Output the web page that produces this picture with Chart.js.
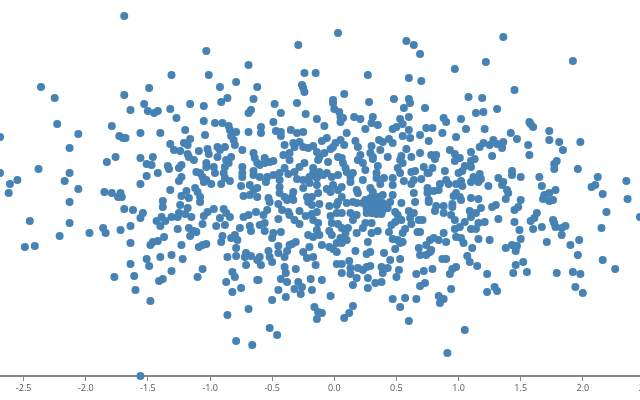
<!DOCTYPE html>
<html>
<head>
<meta charset="utf-8">
<style>
  html, body { margin: 0; padding: 0; background: #fff; }
  #wrap { width: 640px; height: 400px; }
</style>
<script src="https://cdn.jsdelivr.net/npm/chart.js@4/dist/chart.umd.min.js"></script>
</head>
<body>
<div id="wrap"><canvas id="scatter"></canvas></div>
<script>
// tick positions on the x axis
var tickValues = [-2.5, -2.0, -1.5, -1.0, -0.5, 0.0, 0.5, 1.0, 1.5, 2.0, 2.5];
var tickLabels = ['-2.5', '-2.0', '-1.5', '-1.0', '-0.5', '0.0', '0.5', '1.0', '1.5', '2.0', '2.5'];

// [x, y]
var samples = [
[-1.69,1.80],[-1.03,1.45],[-1.31,1.21],[-1.01,1.21],[-2.36,1.09],[-1.49,1.08],[-2.25,.98],[-1.69,1.01],[-1.53,.92],[-1.64,.86],
[-1.50,.85],[-1.45,.83],[-1.42,.85],[-1.32,.87],[-1.16,.92],[-1.05,.90],[-1.27,.78],[-1.05,.75],[-2.23,.72],[-1.79,.70],
[-2.69,.59],[-2.06,.62],[-1.73,.60],[-1.70,.58],[-1.68,.58],[-1.56,.63],[-1.40,.63],[-1.20,.66],[-1.04,.61],[-1.16,.57],
[-1.21,.53],[-1.18,.51],[-1.32,.52],[-1.29,.46],[-1.24,.45],[-2.13,.48],[-1.09,.45],[-1.02,.47],[-1.01,.42],[-1.76,.39],
[-1.83,.34],[-1.56,.38],[-1.46,.39],[-1.51,.32],[-1.47,.31],[-1.18,.42],[-1.17,.39],[-1.13,.36],[-1.34,.30],[-1.33,.27],
[-1.25,.28],[-1.23,.31],[-1.03,.33],[-1.03,.29],[-2.38,.27],[-2.69,.23],[-2.13,.23],[-1.51,.20],[-1.42,.23],[-1.11,.24],
[-1.08,.23],[-1.06,.19],[-1.03,.16],[-1.05,.14],[-1.23,.19],[-1.25,.15],[-2.55,.16],[-2.61,.12],[-2.17,.15],[-1.56,.12],
[-2.62,.03],[-2.06,.07],[-1.85,.04],[-1.79,.03],[-1.72,.03],[-1.74,-.01],[-1.71,-.01],[-1.32,.06],[-1.19,.05],[-1.23,0],
[-1.17,-.02],[-1.12,.08],[-1.10,.04],[-1.08,-.01],[-2.13,-.06],
[-2.45,-.25],[-2.13,-.27],[-2.49,-.51],[-2.41,-.50],[-2.21,-.40],[-1.97,-.37],[-1.86,-.32],[-1.84,-.37],[-1.72,-.34],[-1.64,-.30],
[-1.69,-.13],[-1.62,-.14],[-1.54,-.17],[-1.56,-.22],[-1.43,-.25],[-1.39,-.21],[-1.40,-.30],[-1.36,-.25],[-1.31,-.21],[-1.25,-.17],
[-1.26,-.21],[-1.20,-.18],[-1.24,-.09],[-1.18,-.12],[-1.15,-.21],[-1.38,-.11],[-1.38,-.05],[-1.08,-.06],[-1.02,-.16],[-1.05,-.20],
[-1.06,-.28],[-1.26,-.33],[-1.17,-.32],[-1.13,-.35],[-1.11,-.36],[-1.16,-.40],[-1.64,-.47],[-1.37,-.41],[-1.42,-.45],[-1.46,-.46],
[-1.48,-.49],[-1.23,-.49],[-1.09,-.51],[-1.06,-.49],[-1.03,-.48],[-1.51,-.63],[-1.49,-.70],[-1.40,-.61],[-1.31,-.59],[-1.22,-.63],
[-1.64,-.68],[-1.77,-.81],[-1.61,-.80],[-1.60,-.94],[-1.48,-1.05],[-1.38,-.83],[-1.41,-.85],[-1.31,-.75],[-1.06,-.73],[-1.10,-.81],
[-1.56,-1.80],
[.03,1.63],[-.29,1.51],[.58,1.55],[.64,1.51],[.69,1.42],[-.69,1.31],[-.24,1.23],[-.15,1.23],[.27,1.21],[.60,1.18],
[.70,1.15],[-.92,1.09],[-.79,1.14],[-.62,1.09],[-.26,1.11],[-.25,1.08],[-.24,1.04],[.08,1.02],[-.86,.98],[-.91,.94],
[-.65,.97],[-.48,.92],[-.30,.93],[-.01,.96],[-.01,.93],[.28,.94],[.48,.97],[.60,.97],[.61,.93],[.56,.88],
[.73,.88],[-.67,.86],[-.69,.83],[-.43,.83],[-.23,.82],[0,.87],[.04,.84],[.05,.79],[.07,.78],[.05,.74],
[-.14,.77],[.16,.79],[.21,.77],[.31,.79],[.60,.79],[.53,.77],[-.96,.73],[-.90,.73],[-.85,.70],[-.49,.74],
[-.08,.70],[.30,.73],[.35,.71],[.25,.67],[.47,.67],[.50,.69],[.55,.72],[.60,.66],[.74,.68],[-.84,.66],
[-.79,.64],[-.59,.69],[-.59,.63],[-.69,.64],[-.47,.65],[-.43,.64],[-.43,.60],[-.35,.66],[-.30,.63],[-.25,.64],
[.10,.63],[.55,.60],[.61,.58],[.69,.61],[-.83,.60],[-.81,.56],[-.80,.51],[-.06,.58],[-.10,.55],[.05,.56],
[.01,.53],[.08,.51],[.17,.55],[.19,.49],[.36,.56],[.39,.54],[.44,.57],[.47,.53],[-.40,.51],[-.33,.53],
[-.28,.54],[-.32,.49],[-.25,.49],[-.21,.48],[-.17,.50],[-.01,.49],[.30,.50],[.58,.47],[-.94,.49],[-.88,.49],
[-.92,.46],[-.74,.46],[-.65,.43],[-.64,.38],[-.62,.33],[-.41,.41],[-.36,.43],[-.36,.36],[-.14,.44],[-.12,.39],
[-.08,.43],[-.03,.47],[.03,.39],[.06,.38],[.21,.41],[.19,.36],[.23,.33],[.29,.43],[.31,.39],[.37,.46],
[.31,.37],[.43,.39],[.54,.40],[.62,.39],[.69,.43],[-.94,.39],[-.83,.39],[-.87,.36],[-.85,.33],[-.88,.29],
[-.56,.38],[-.60,.31],[-.52,.34],[-.49,.35],[-.56,.33],[-.13,.36],[-.05,.34],[.07,.33],[.09,.28],[.35,.30],
[.53,.36],[.55,.33],[.51,.28],[.72,.29],[-.97,.29],[-.96,.23],[-.74,.29],[-.74,.23],[-.74,.19],[-.65,.25],
[-.65,.21],[-.24,.33],[-.28,.29],[-.32,.24],[-.17,.28],[-.17,.23],[-.12,.24],[-.06,.23],[.25,.26],[.10,.24],
[.13,.19],[.15,.23],[.53,.23],[.62,.24],[.65,.25],[.75,.23],[-.89,.23],[-.88,.18],[-.84,.15],[-.60,.19],
[-.54,.19],[-.49,.21],[-.44,.23],[-.40,.28],[-.37,.22],[-.30,.17],[-.25,.16],[-.20,.19],[-.14,.18],[-.09,.21],
[-.02,.19],[.03,.21],[.23,.16],[.34,.23],[.34,.18],[.40,.18],[.47,.18],[.56,.15],[.64,.16],[.70,.17],
[-.99,.12],[-.91,.12],[-.75,.10],[-.55,.14],[-.44,.16],[-.44,.09],[-.14,.11],[-.20,.13],[-.25,.08],[-.06,.07],
[-.01,.11],[.06,.09],[.13,.14],[.18,.06],[.29,.08],[.37,.12],[.47,.11],[.62,.12],[.75,.08],[-.68,.11],
[-.65,.06],[-.62,.08],[-.73,0],[-.68,.01],[-.62,-.01],[-.53,-.02],[-.44,.03],[-.40,-.01],[-.33,.04],[-.34,-.01],
[-.22,-.01],[-.18,-.01],[-.13,.03],[-.03,.04],[.03,.06],[.06,-.01],[.19,.03],[.31,.04],[.39,.01],[.47,.01],
[.64,.03],[.75,.03],
[1.36,1.59],[1.22,1.34],[.97,1.27],[1.92,1.35],[1.45,1.06],[1.08,.99],[1.19,.98],[1.14,.83],[1.20,.84],[1.31,.87],
[.88,.78],[.90,.74],[1.02,.77],[1.57,.74],[1.58,.72],[1.60,.69],[.79,.68],[1.06,.67],[1.21,.67],[.87,.63],
[.98,.59],[1.42,.63],[1.47,.57],[1.73,.65],[1.73,.56],[1.81,.54],[1.98,.54],[1.56,.51],[1.28,.56],[1.20,.53],
[1.17,.49],[1.25,.51],[1.31,.52],[1.36,.54],[1.35,.48],[1.84,.46],[.76,.55],[.93,.46],[1.10,.44],[1.57,.41],
[1.27,.40],[.97,.42],[1.01,.38],[.97,.35],[.82,.41],[.78,.41],[.81,.37],[1.13,.37],[1.10,.35],[1.79,.35],
[1.77,.32],[1.77,.27],[1.96,.27],[.79,.28],[.76,.23],[1.05,.30],[1.10,.29],[.89,.25],[1.03,.25],[1.00,.23],
[1.43,.25],[1.43,.21],[1.50,.19],[1.65,.19],[2.12,.19],[.90,.16],[.92,.12],[1.12,.19],[1.17,.22],[1.18,.17],
[1.16,.14],[1.10,.14],[1.32,.18],[1.36,.14],[1.35,.11],[1.24,.10],[1.67,.10],[2.10,.11],[2.07,.09],[2.35,.15],
[1.02,.15],[.98,.12],[1.03,.10],[.85,.12],[.80,.05],[.84,.06],[1.39,.06],[1.40,.03],[1.78,.06],[1.73,.03],
[1.69,.01],[2.16,.02],[.98,.03],[.96,0],[1.01,-.01],[1.10,-.02],[1.16,-.03],[1.38,-.03],[1.50,-.04],[1.68,-.03],
[1.76,-.04],[.76,-.04],[2.36,-.03],
[-.97,-.13],[-.89,-.13],[-.87,-.17],[-.84,-.21],[-.92,-.22],[-.88,-.29],[-.95,-.30],[-.73,-.21],[-.69,-.19],[-.63,-.16],
[-.54,-.14],[-.57,-.19],[-.45,-.08],[-.42,-.14],[-.37,-.16],[-.36,-.19],[-.28,-.15],[-.32,-.24],[-.28,-.28],[-.45,-.23],
[-.52,-.06],[-.38,-.04],[-.33,-.04],[-.21,-.06],[-.12,-.08],[-.18,-.09],[-.14,-.16],[-.18,-.18],[-.23,-.20],[-.17,-.24],
[-.13,-.27],[-.04,-.10],[-.03,-.20],[.02,-.09],[.06,-.17],[.02,-.17],[-.02,-.27],[.03,-.06],[.15,-.06],[.13,-.17],
[.18,-.19],[.15,-.24],[.25,-.27],[.30,-.27],[.10,-.07],[.18,-.07],[.23,-.07],[.29,-.06],[.34,-.07],[.39,-.07],
[.45,-.06],[.26,-.12],[.31,-.12],[.37,-.14],[.42,-.12],[.31,-.17],[.37,-.17],[.26,-.17],[.49,-.16],[.51,-.19],
[.54,-.24],[.46,-.29],[.49,-.26],[.54,-.07],[.60,-.15],[.64,-.17],[.61,-.22],[.62,-.28],[.68,-.24],[.71,-.24],
[.67,-.36],[.69,-.36],[.65,-.06],[.76,-.06],[-.68,-.30],[-.67,-.35],[-.76,-.32],[-.60,-.29],[-.56,-.27],[-.56,-.35],
[-.49,-.37],[-.43,-.36],[-.50,-.42],[-.80,-.39],[-.83,-.42],[-.78,-.44],[-.90,-.40],[-.91,-.46],[-.79,-.52],[-.86,-.61],
[-.79,-.60],[-.71,-.57],[-.72,-.61],[-.67,-.60],[-.62,-.64],[-.60,-.61],[-.59,-.69],[-.71,-.69],[-.53,-.55],[-.52,-.61],
[-.50,-.66],[-.45,-.50],[-.45,-.57],[-.38,-.55],[-.40,-.61],[-.34,-.48],[-.31,-.46],[-.36,-.49],[-.20,-.51],[-.25,-.56],
[-.22,-.62],[-.17,-.61],[-.15,-.69],[-.21,-.39],[-.14,-.34],[-.12,-.39],[-.17,-.41],[-.10,-.49],[-.04,-.35],[-.02,-.39],
[-.04,-.51],[-.01,-.53],[.02,-.56],[.17,-.55],[.03,-.28],[.06,-.32],[.11,-.32],[.18,-.37],[.23,-.32],[.05,-.42],
[.02,-.47],[.06,-.47],[.10,-.44],[.09,-.37],[.30,-.37],[.35,-.35],[.27,-.46],[.29,-.56],[.26,-.58],[.44,-.36],
[.47,-.43],[.51,-.44],[.55,-.37],[.57,-.33],[.53,-.47],[.55,-.46],[.40,-.57],[.49,-.53],[.45,-.64],[.53,-.63],
[.68,-.52],[.69,-.59],[.74,-.49],[.74,-.59],[.77,-.56],[.12,-.65],[.02,-.68],[.06,-.68],[.06,-.77],[.13,-.72],
[.13,-.78],[.19,-.72],[.18,-.82],[.15,-.89],[.23,-.74],[.26,-.71],[.29,-.70],[.27,-.82],[.27,-.92],[.33,-.87],
[.38,-.86],[.38,-.71],[.39,-.77],[.43,-.72],[.52,-.74],[.50,-.81],[.66,-.78],[.72,-.75],[.69,-.90],[.73,-.87],
[-.40,-.71],[-.39,-.77],[-.31,-.73],[-.43,-.83],[-.38,-.86],[-.29,-.86],[-.26,-.91],[-.32,-.93],[-.27,-.98],[-.45,-.94],
[-.39,-1.01],[-.50,-1.04],[-.19,-.83],[-.18,-.94],[-.10,-.84],[-.03,-1.00],[-.82,-.76],[-.80,-.81],[-.87,-.86],[-.82,-.96],
[-.75,-.92],[-.62,-.84],[-.61,-.84],[.47,-1.03],[.57,-1.02],[.66,-1.03],[.53,-1.11],[.60,-1.25],[-.16,-1.11],[-.13,-1.16],
[-.10,-1.17],[-.14,-1.23],[.15,-1.10],[.12,-1.17],[.08,-1.22],[-.69,-1.13],[-.86,-1.19],[-.52,-1.32],[-.46,-1.39],[-.79,-1.45],
[-.66,-1.49],
[.82,-.10],[.81,-.15],[.88,-.10],[.88,-.17],[.95,-.08],[.95,-.11],[1.02,-.04],[1.18,-.12],[1.09,-.15],[1.14,-.17],
[1.10,-.21],[.94,-.19],[.97,-.24],[1.05,-.26],[.97,-.33],[1.01,-.31],[1.10,-.33],[1.14,-.33],[1.16,-.27],[1.21,-.26],
[1.32,-.23],[1.27,-.11],[1.30,-.09],[1.45,-.14],[1.48,-.11],[1.45,-.26],[1.58,-.25],[1.61,-.22],[1.63,-.17],[1.76,-.24],
[1.77,-.27],[1.78,-.31],[1.83,-.32],[1.86,-.30],[1.67,-.31],[1.60,-.33],[1.49,-.34],[1.73,-.05],[2.19,-.16],[2.15,-.32],
[2.46,-.21],[1.83,-.39],[.88,-.37],[.98,-.41],[.80,-.42],[.84,-.44],[.77,-.44],[.90,-.46],[1.02,-.42],[1.04,-.47],
[1.16,-.43],[1.25,-.44],[1.50,-.43],[1.71,-.46],[1.97,-.44],[1.90,-.49],[1.11,-.52],[1.38,-.52],[1.43,-.49],[1.47,-.50],
[1.46,-.55],[1.07,-.60],[1.09,-.66],[1.15,-.70],[1.96,-.59],[2.16,-.64],[2.26,-.73],[.87,-.63],[.90,-.63],[.98,-.71],
[.95,-.73],[.93,-.78],[.79,-.73],[1.52,-.66],[1.46,-.69],[1.55,-.76],[1.44,-.77],[1.23,-.78],[1.79,-.77],[1.92,-.76],
[1.98,-.78],[.94,-.93],[1.29,-.91],[1.31,-.95],[1.23,-.96],[1.94,-.91],[2.00,-.97],[.84,-1.00],[.88,-1.03],[.85,-1.07],
[1.05,-1.34],[.91,-1.57],[.78,-.54],
// dense blob right of centre
[.25,-.04],[.29,-.07],[.33,-.04],[.37,-.07],[.41,-.09],[.27,-.12],[.31,-.12],[.35,-.13],[.39,-.14],[.30,-.17],
[.34,-.18],[.38,-.18],[.43,-.12],[.25,-.08],[.33,-.08],[.29,-.02],[.35,-.01]
];

var ctx = document.getElementById('scatter').getContext('2d');

var scatter = new Chart(ctx, {
  type: 'scatter',
  data: {
    datasets: [{
      data: samples.map(function (p) { return { x: p[0], y: p[1] }; }),
      backgroundColor: '#4682b4',
      borderWidth: 0,
      pointRadius: 4,
      clip: false
    }]
  },
  options: {
    responsive: true,
    maintainAspectRatio: false,
    animation: false,
    layout: { padding: 0, autoPadding: false },
    plugins: { legend: { display: false }, tooltip: { enabled: false } },
    scales: {
      x: {
        type: 'linear',
        min: -2.69,
        max: 2.46,
        afterBuildTicks: function (scale) {
          scale.ticks = tickValues.map(function (v) { return { value: v }; });
        },
        afterFit: function (scale) {
          scale.height = 24;
          scale.paddingLeft = 0;
          scale.paddingRight = 0;
        },
        border: { display: true, color: '#888', width: 2 },
        grid: { display: true, drawOnChartArea: false, drawTicks: true, tickLength: 5, tickColor: '#888', tickWidth: 1 },
        ticks: {
          autoSkip: false,
          maxRotation: 0,
          padding: 2,
          color: '#555',
          font: { family: '"Open Sans"', size: 9 },
          callback: function (value) { return tickLabels[tickValues.indexOf(value)]; }
        }
      },
      y: { display: false, min: -1.80, max: 1.96 }
    }
  }
});
</script>
</body>
</html>
